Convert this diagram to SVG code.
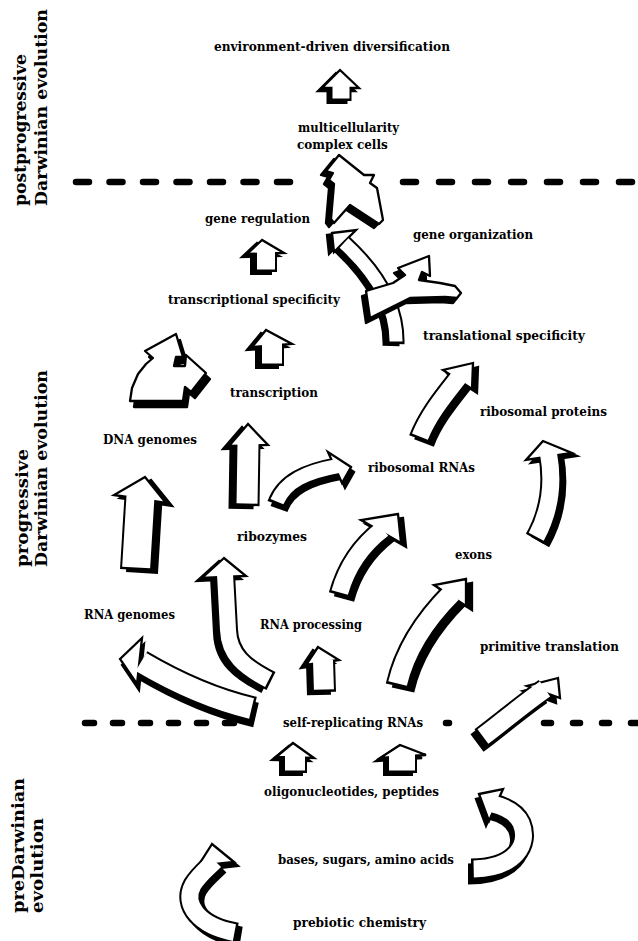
<svg xmlns="http://www.w3.org/2000/svg" width="638" height="941" viewBox="0 0 638 941">
<style>
.lbl{font-family:"DejaVu Serif","Liberation Serif",serif;font-weight:bold;font-size:12px;fill:#000}
.side{font-family:"DejaVu Serif","Liberation Serif",serif;font-weight:bold;font-size:17px;fill:#000}
.dash{stroke:#000;stroke-width:6.5;stroke-linecap:round;fill:none}
.k{fill:none;stroke:#000;stroke-linejoin:round}
.w{fill:none;stroke:#fff;stroke-dasharray:0 2.5 3000}
.hd{fill:#fff;stroke:#000;stroke-width:2.3;stroke-linejoin:miter}
.hs{fill:#000;stroke:#000;stroke-width:2.3}
.pw{fill:#fff;stroke:#000;stroke-width:2.3;stroke-linejoin:round}
.pk{fill:#000;stroke:#000;stroke-width:2.3;stroke-linejoin:round}
</style>
<rect width="638" height="941" fill="#fff"/>

<g id="side-labels">
<text class="side" transform="translate(26,206) rotate(-90)" textLength="152" lengthAdjust="spacingAndGlyphs">postprogressive</text>
<text class="side" transform="translate(47,206) rotate(-90)" textLength="197" lengthAdjust="spacingAndGlyphs">Darwinian evolution</text>
<text class="side" transform="translate(28,567) rotate(-90)" textLength="118" lengthAdjust="spacingAndGlyphs">progressive</text>
<text class="side" transform="translate(47,567) rotate(-90)" textLength="197" lengthAdjust="spacingAndGlyphs">Darwinian evolution</text>
<text class="side" transform="translate(24,913) rotate(-90)" textLength="135" lengthAdjust="spacingAndGlyphs">preDarwinian</text>
<text class="side" transform="translate(43,913) rotate(-90)" textLength="95" lengthAdjust="spacingAndGlyphs">evolution</text>
</g>

<g id="boundaries">
<line class="dash" x1="76" y1="182" x2="291" y2="182" stroke-dasharray="13 20.5"/>
<line class="dash" x1="403" y1="182" x2="640" y2="182" stroke-dasharray="13 23"/>
<line class="dash" x1="85" y1="723" x2="235" y2="723" stroke-dasharray="9 19"/>
<line class="dash" x1="446" y1="723" x2="449" y2="723"/>
<line class="dash" x1="544" y1="723" x2="640" y2="723" stroke-dasharray="7 22"/>
</g>

<g id="connectors">
<g id="a1">
<g transform="translate(-4,3)"><path class="k" stroke-width="21" d="M341,101 L341,85"/><polygon class="hs" points="340,70 322,88 359,88"/></g>
<path class="k" stroke-width="21" d="M341,101 L341,85"/><polygon class="hd" points="340,70 322,88 359,88"/><path class="w" stroke-width="17" d="M341,101 L341,85"/>
</g>
<g id="a2">
<polygon class="pk" transform="translate(-5,4)" points="339,155 326,171 333,173 329,180 334,184 331,219 334,223 350,205 379,224 383,220 377,188 370,183 374,175 364,175"/>
<polygon class="pw" points="339,155 326,171 333,173 329,180 334,184 331,219 334,223 350,205 379,224 383,220 377,188 370,183 374,175 364,175"/>
</g>
<g id="a3">
<g transform="translate(-5,2)"><path class="k" stroke-width="17" d="M396,344 C397,310 380,276 344,243"/><polygon class="hs" points="332,233 356,230 334,252"/></g>
<path class="k" stroke-width="17" d="M396,344 C397,310 380,276 344,243"/><polygon class="hd" points="332,233 356,230 334,252"/><path class="w" stroke-width="13" d="M396,344 C397,310 380,276 344,243"/>
</g>
<g id="a3b">
<polygon class="pk" transform="translate(-4,5)" points="366,291 393,283 405,275 398,268 429,256 430,276 422,272 419,280 440,283 455,286 461,293 457,298 445,297 410,298 390,308 370,318"/>
<polygon class="pw" points="366,291 393,283 405,275 398,268 429,256 430,276 422,272 419,280 440,283 455,286 461,293 457,298 445,297 410,298 390,308 370,318"/>
</g>
<g id="a4">
<g transform="translate(-5,3)"><path class="k" stroke-width="22" d="M266,272 L266,252"/><polygon class="hs" points="262,240 247,254 284,253"/></g>
<path class="k" stroke-width="22" d="M266,272 L266,252"/><polygon class="hd" points="262,240 247,254 284,253"/><path class="w" stroke-width="18" d="M266,272 L266,252"/>
</g>
<g id="a5">
<g transform="translate(-5,3)"><path class="k" stroke-width="24" d="M272,366 L272,343"/><polygon class="hs" points="266,330 252,347 292,344"/></g>
<path class="k" stroke-width="24" d="M272,366 L272,343"/><polygon class="hd" points="266,330 252,347 292,344"/><path class="w" stroke-width="20" d="M272,366 L272,343"/>
</g>
<g id="a6">
<polygon class="pk" transform="translate(4,6)" points="130,401 132,388 138,374 146,364 153,358 145,351 176,334 183,357 176,357 174,366 185,366 186,355 206,373 191,392 185,387 183,401"/>
<polygon class="pw" points="130,401 132,388 138,374 146,364 153,358 145,351 176,334 183,357 176,357 174,366 185,366 186,355 206,373 191,392 185,387 183,401"/>
</g>
<g id="a7">
<g transform="translate(5,4)"><path class="k" stroke-width="21" d="M419,439 C428,415 445,395 459,377"/><polygon class="hs" points="473,363 443,370 472,389"/></g>
<path class="k" stroke-width="21" d="M419,439 C428,415 445,395 459,377"/><polygon class="hd" points="473,363 443,370 472,389"/><path class="w" stroke-width="17" d="M419,439 C428,415 445,395 459,377"/>
</g>
<g id="a8">
<g transform="translate(5,3)"><path class="k" stroke-width="21" d="M535,539 Q557,500 548.5,453.5"/><polygon class="hs" points="543,441 526,460 572,453"/></g>
<path class="k" stroke-width="21" d="M535,539 Q557,500 548.5,453.5"/><polygon class="hd" points="543,441 526,460 572,453"/><path class="w" stroke-width="17" d="M535,539 Q557,500 548.5,453.5"/>
</g>
<g id="a9">
<g transform="translate(-6,3)"><path class="k" stroke-width="25" d="M247,506 L248,443"/><polygon class="hs" points="248,424 229,446 268,445"/></g>
<path class="k" stroke-width="25" d="M247,506 L248,443"/><polygon class="hd" points="248,424 229,446 268,445"/><path class="w" stroke-width="21" d="M247,506 L248,443"/>
</g>
<g id="a10">
<g transform="translate(3,5)"><path class="k" stroke-width="18" d="M276,504 C284,482 305,472 338,466"/><polygon class="hs" points="351,467 328,452 342,483"/></g>
<path class="k" stroke-width="18" d="M276,504 C284,482 305,472 338,466"/><polygon class="hd" points="351,467 328,452 342,483"/><path class="w" stroke-width="14" d="M276,504 C284,482 305,472 338,466"/>
</g>
<g id="a11">
<g transform="translate(6,3)"><path class="k" stroke-width="32" d="M136,570 L140.5,496"/><polygon class="hs" points="145,477 114,495 166,503"/></g>
<path class="k" stroke-width="32" d="M136,570 L140.5,496"/><polygon class="hd" points="145,477 114,495 166,503"/><path class="w" stroke-width="28" d="M136,570 L140.5,496"/>
</g>
<g id="a12">
<g transform="translate(5,4)"><path class="k" stroke-width="21" d="M339,595 C347,565 362,545 383,529"/><polygon class="hs" points="398,514 361,520 401,543"/></g>
<path class="k" stroke-width="21" d="M339,595 C347,565 362,545 383,529"/><polygon class="hd" points="398,514 361,520 401,543"/><path class="w" stroke-width="17" d="M339,595 C347,565 362,545 383,529"/>
</g>
<g id="a13">
<g transform="translate(-5,3)"><path class="k" stroke-width="20" d="M271,681 C245,668 229,655 228,630 L225,574"/><polygon class="hs" points="224,558 202,578 246,576"/></g>
<path class="k" stroke-width="20" d="M271,681 C245,668 229,655 228,630 L225,574"/><polygon class="hd" points="224,558 202,578 246,576"/><path class="w" stroke-width="16" d="M271,681 C245,668 229,655 228,630 L225,574"/>
</g>
<g id="a14">
<g transform="translate(6,4)"><path class="k" stroke-width="23" d="M397,686 C405,650 425,620 452,593"/><polygon class="hs" points="466,579 434,585 466,606"/></g>
<path class="k" stroke-width="23" d="M397,686 C405,650 425,620 452,593"/><polygon class="hd" points="466,579 434,585 466,606"/><path class="w" stroke-width="19" d="M397,686 C405,650 425,620 452,593"/>
</g>
<g id="a15">
<g transform="translate(-5,3)"><path class="k" stroke-width="24" d="M324,692 L323,660"/><polygon class="hs" points="318,647 306,665 339,660"/></g>
<path class="k" stroke-width="24" d="M324,692 L323,660"/><polygon class="hd" points="318,647 306,665 339,660"/><path class="w" stroke-width="20" d="M324,692 L323,660"/>
</g>
<g id="a16">
<g transform="translate(2,6)"><path class="k" stroke-width="25" d="M254,709 C215,700 180,685 141,662"/><polygon class="hs" points="120,659 142,638 137,684"/></g>
<path class="k" stroke-width="25" d="M254,709 C215,700 180,685 141,662"/><polygon class="hd" points="120,659 142,638 137,684"/><path class="w" stroke-width="21" d="M254,709 C215,700 180,685 141,662"/>
</g>
<g id="a17">
<g transform="translate(-4,5)"><path class="k" stroke-width="22" d="M481,738 C500,724 522,705 545,689"/><polygon class="hs" points="558,678 527,686 560,698"/></g>
<path class="k" stroke-width="22" d="M481,738 C500,724 522,705 545,689"/><polygon class="hd" points="558,678 527,686 560,698"/><path class="w" stroke-width="18" d="M481,738 C500,724 522,705 545,689"/>
</g>
<g id="a18">
<g transform="translate(-4,3)"><path class="k" stroke-width="24" d="M295,773 L295,755"/><polygon class="hs" points="293,743 276,757 314,758"/></g>
<path class="k" stroke-width="24" d="M295,773 L295,755"/><polygon class="hd" points="293,743 276,757 314,758"/><path class="w" stroke-width="20" d="M295,773 L295,755"/>
</g>
<g id="a19">
<g transform="translate(-4,3)"><path class="k" stroke-width="30" d="M402,773 L402,754"/><polygon class="hs" points="400,745 380,758 426,755"/></g>
<path class="k" stroke-width="30" d="M402,773 L402,754"/><polygon class="hd" points="400,745 380,758 426,755"/><path class="w" stroke-width="26" d="M402,773 L402,754"/>
</g>
<g id="a20">
<g transform="translate(-3,5)"><path class="k" stroke-width="21" d="M471,869 C515,869 530,845 521,823 C516,812 505,807 493,804"/><polygon class="hs" points="479,794 503,789 489,821"/></g>
<path class="k" stroke-width="21" d="M471,869 C515,869 530,845 521,823 C516,812 505,807 493,804"/><polygon class="hd" points="479,794 503,789 489,821"/><path class="w" stroke-width="17" d="M471,869 C515,869 530,845 521,823 C516,812 505,807 493,804"/>
</g>
<g id="a21">
<g transform="translate(4,4)"><path class="k" stroke-width="21" d="M237,933 C200,927 182,905 193,885 C199,875 207,869 215,861"/><polygon class="hs" points="212,844 198,866 234,862"/></g>
<path class="k" stroke-width="21" d="M237,933 C200,927 182,905 193,885 C199,875 207,869 215,861"/><polygon class="hd" points="212,844 198,866 234,862"/><path class="w" stroke-width="17" d="M237,933 C200,927 182,905 193,885 C199,875 207,869 215,861"/>
</g>
</g>

<g id="n-env"><text class="lbl" x="214" y="51" textLength="236" lengthAdjust="spacingAndGlyphs">environment-driven diversification</text></g>
<g id="n-multi"><text class="lbl" x="298" y="132" textLength="101" lengthAdjust="spacingAndGlyphs">multicellularity</text><text class="lbl" x="297" y="149">complex cells</text></g>
<g id="n-generegulation"><text class="lbl" x="205" y="223" textLength="105" lengthAdjust="spacingAndGlyphs">gene regulation</text></g>
<g id="n-geneorg"><text class="lbl" x="413" y="239" textLength="120" lengthAdjust="spacingAndGlyphs">gene organization</text></g>
<g id="n-transcspec"><text class="lbl" x="168" y="304" textLength="172" lengthAdjust="spacingAndGlyphs">transcriptional specificity</text></g>
<g id="n-translspec"><text class="lbl" x="423" y="340" textLength="162" lengthAdjust="spacingAndGlyphs">translational specificity</text></g>
<g id="n-transcription"><text class="lbl" x="230" y="397" textLength="88" lengthAdjust="spacingAndGlyphs">transcription</text></g>
<g id="n-ribprot"><text class="lbl" x="480" y="416" textLength="127" lengthAdjust="spacingAndGlyphs">ribosomal proteins</text></g>
<g id="n-dna"><text class="lbl" x="103" y="444" textLength="94" lengthAdjust="spacingAndGlyphs">DNA genomes</text></g>
<g id="n-ribrna"><text class="lbl" x="368" y="472" textLength="107" lengthAdjust="spacingAndGlyphs">ribosomal RNAs</text></g>
<g id="n-ribozymes"><text class="lbl" x="237" y="541" textLength="70" lengthAdjust="spacingAndGlyphs">ribozymes</text></g>
<g id="n-exons"><text class="lbl" x="455" y="559" textLength="37" lengthAdjust="spacingAndGlyphs">exons</text></g>
<g id="n-rnagenomes"><text class="lbl" x="84" y="619" textLength="91" lengthAdjust="spacingAndGlyphs">RNA genomes</text></g>
<g id="n-rnaproc"><text class="lbl" x="260" y="629" textLength="102" lengthAdjust="spacingAndGlyphs">RNA processing</text></g>
<g id="n-primtrans"><text class="lbl" x="480" y="651" textLength="139" lengthAdjust="spacingAndGlyphs">primitive translation</text></g>
<g id="n-selfrep"><text class="lbl" x="283" y="727" textLength="140" lengthAdjust="spacingAndGlyphs">self-replicating RNAs</text></g>
<g id="n-oligo"><text class="lbl" x="264" y="796" textLength="175" lengthAdjust="spacingAndGlyphs">oligonucleotides, peptides</text></g>
<g id="n-bases"><text class="lbl" x="278" y="864" textLength="176" lengthAdjust="spacingAndGlyphs">bases, sugars, amino acids</text></g>
<g id="n-prebiotic"><text class="lbl" x="293" y="927" textLength="133" lengthAdjust="spacingAndGlyphs">prebiotic chemistry</text></g>
</svg>
